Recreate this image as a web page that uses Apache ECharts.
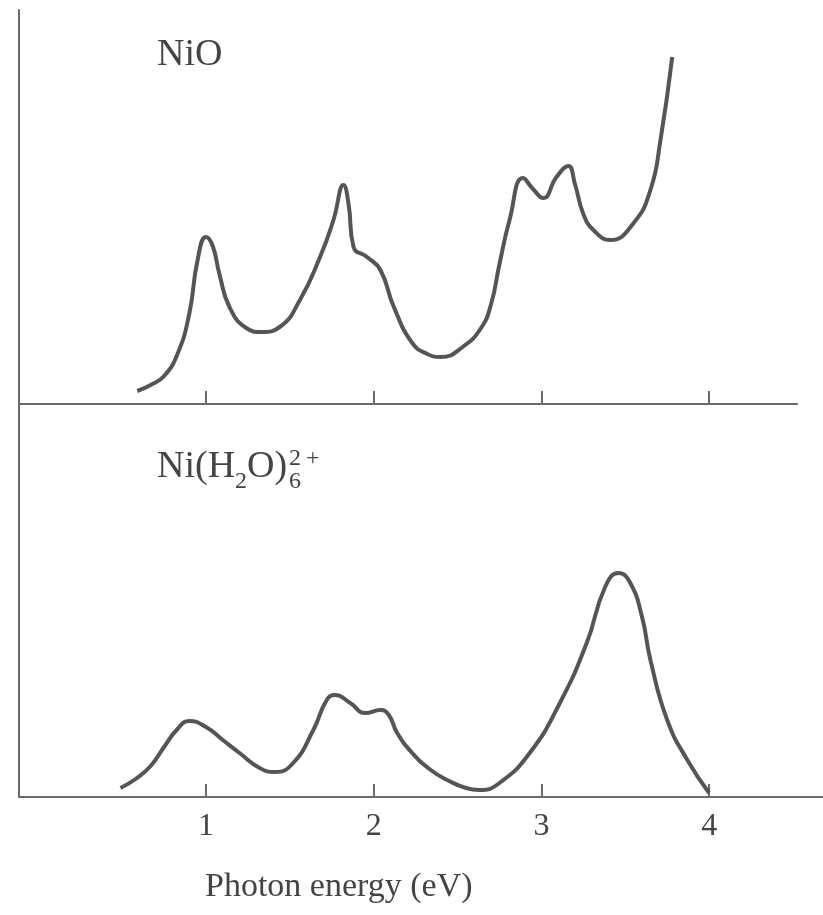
<!DOCTYPE html>
<html>
<head>
<meta charset="utf-8">
<script src="https://cdn.jsdelivr.net/npm/echarts@6/dist/echarts.min.js"></script>
<style>
  html, body { margin: 0; padding: 0; background: #fff; }
  #chart { width: 823px; height: 915px; }
</style>
</head>
<body>
<div id="chart"></div>
<script>
// photon energy ticks (eV)
const tickValues = [1, 2, 3, 4]

// NiO absorption (arbitrary units)
const nioEnergy = [0.59, 0.67, 0.75, 0.83, 0.9, 0.95, 1.0, 1.04, 1.08, 1.14, 1.24, 1.33, 1.44, 1.56, 1.68, 1.76, 1.82, 1.85, 1.88, 1.96, 2.04, 2.12, 2.23, 2.32, 2.4, 2.53, 2.64, 2.7, 2.75, 2.81, 2.89, 2.95, 3.01, 3.09, 3.16, 3.2, 3.25, 3.31, 3.41, 3.55, 3.65, 3.71, 3.78]
const nioAbsorb = [13, 19, 28, 50, 90, 144, 167, 158, 130, 97, 76, 72, 77, 104, 147, 184, 219, 200, 157, 147, 134, 97, 61, 50, 47, 57, 76, 100, 140, 184, 226, 215, 206, 227, 238, 220, 190, 174, 164, 181, 214, 264, 347]

// Ni(H2O)6 2+ absorption (arbitrary units)
const aquaEnergy = [0.49, 0.58, 0.67, 0.75, 0.83, 0.9, 1.0, 1.1, 1.2, 1.32, 1.41, 1.52, 1.64, 1.72, 1.77, 1.86, 1.95, 2.04, 2.09, 2.14, 2.23, 2.34, 2.45, 2.55, 2.63, 2.75, 2.93, 3.11, 3.27, 3.38, 3.46, 3.53, 3.6, 3.65, 3.75, 3.87, 4.0]
const aquaAbsorb = [9, 18, 31, 50, 68, 76, 70, 57, 44, 29, 25, 34, 67, 97, 102, 94, 84, 87, 82, 64, 44, 27, 16, 9, 7, 14, 44, 94, 154, 210, 224, 214, 180, 137, 77, 37, 4]

const ink = '#555'
const axisInk = '#6a6a6a'
const serif = '"Liberation Serif", "DejaVu Serif", serif'

const chart = echarts.init(document.getElementById('chart'))

function xAxisFor(gridIndex, max, showLabels) {
  return {
    type: 'value',
    gridIndex,
    min: -0.115,
    max,
    axisLine: { show: true, onZero: false, lineStyle: { color: axisInk, width: 2 } },
    axisTick: {
      show: true,
      inside: true,
      length: 13,
      customValues: tickValues,
      lineStyle: { color: axisInk, width: 2 },
    },
    axisLabel: {
      show: showLabels,
      customValues: tickValues,
      margin: 14,
      fontSize: 32,
      fontFamily: serif,
      color: '#444',
    },
    splitLine: { show: false },
  }
}

function yAxisFor(gridIndex, max) {
  return {
    type: 'value',
    gridIndex,
    min: 0,
    max,
    axisLine: { show: true, onZero: false, lineStyle: { color: axisInk, width: 2 } },
    axisTick: { show: false },
    axisLabel: { show: false },
    splitLine: { show: false },
  }
}

function pairs(xs, ys) {
  return xs.map((x, i) => [x, ys[i]])
}

function label(text, x, y, size) {
  return {
    type: 'text',
    x,
    y,
    style: {
      text,
      fill: '#444',
      font: size + 'px ' + serif,
      textVerticalAlign: 'middle',
    },
  }
}

chart.setOption({
  animation: false,
  grid: [
    { left: 19, top: 10, width: 778, height: 394 },
    { left: 19, top: 404, width: 804, height: 393 },
  ],
  xAxis: [xAxisFor(0, 4.524, false), xAxisFor(1, 4.679, true)],
  yAxis: [yAxisFor(0, 394), yAxisFor(1, 393)],
  series: [
    {
      type: 'line',
      xAxisIndex: 0,
      yAxisIndex: 0,
      data: pairs(nioEnergy, nioAbsorb),
      smooth: 0.5,
      showSymbol: false,
      lineStyle: { color: ink, width: 4 },
    },
    {
      type: 'line',
      xAxisIndex: 1,
      yAxisIndex: 1,
      data: pairs(aquaEnergy, aquaAbsorb),
      smooth: 0.5,
      showSymbol: false,
      lineStyle: { color: ink, width: 4 },
    },
  ],
  graphic: [
    label('NiO', 157, 55, 38),
    label('Ni(H', 157, 467, 38),
    label('2', 235, 482, 24),
    label('O)', 247, 467, 38),
    label('2', 289, 459, 24),
    label('6', 289, 482, 24),
    label('+', 306, 459, 24),
    label('Photon energy (eV)', 205, 887, 34),
  ],
})
</script>
</body>
</html>
